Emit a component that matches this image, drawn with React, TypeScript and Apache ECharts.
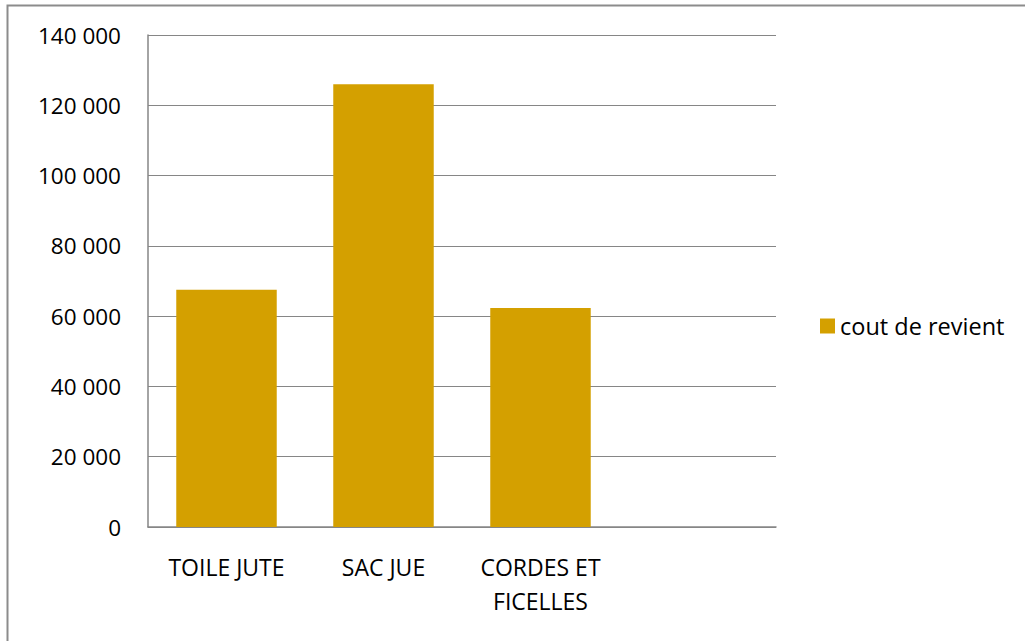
import React, { useEffect, useRef } from "react";
import * as echarts from "echarts";

const categories = ["TOILE JUTE", "SAC JUE", "CORDES ET\nFICELLES", ""];
const coutDeRevient = [67500, 126000, 62300, null];
const seriesName = "cout de revient";

export default function App() {
  const ref = useRef<HTMLDivElement>(null);
  useEffect(() => {
    document.body.style.margin = "0";
    const chart = echarts.init(ref.current!, undefined, { renderer: "svg" });
    const font = "'Open Sans', sans-serif";
    chart.setOption({
      animation: false,
      backgroundColor: "#ffffff",
      graphic: [
        {
          type: "rect",
          shape: { x: 7.5, y: 5.5, width: 1100, height: 700 },
          style: { fill: "none", stroke: "#8c8c8c", lineWidth: 2 },
          silent: true,
        },
      ],
      grid: { left: 148, right: 249, top: 35, bottom: 114 },
      legend: {
        orient: "vertical",
        left: 815,
        top: 309,
        itemWidth: 15,
        itemHeight: 15,
        icon: "rect",
        itemGap: 6,
        textStyle: { fontFamily: font, fontSize: 23.5, color: "#000" },
        data: [seriesName],
      },
      xAxis: {
        type: "category",
        data: categories,
        axisLine: { lineStyle: { color: "#868686", width: 1.5 } },
        axisTick: { show: false },
        axisLabel: {
          interval: 0,
          margin: 23,
          fontFamily: font,
          fontSize: 23,
          color: "#000",
          lineHeight: 34,
          verticalAlign: "top",
        },
      },
      yAxis: {
        type: "value",
        min: 0,
        max: 140000,
        interval: 20000,
        axisLine: { show: true, lineStyle: { color: "#868686", width: 1.5 } },
        axisTick: { show: false },
        splitLine: { lineStyle: { color: "#868686", width: 1 } },
        axisLabel: {
          margin: 27,
          fontFamily: font,
          fontSize: 22.5,
          color: "#000",
          formatter: (v: number) => (v === 0 ? "0" : `${Math.round(v / 1000)} 000`),
        },
      },
      series: [
        {
          name: seriesName,
          type: "bar",
          data: coutDeRevient,
          barCategoryGap: "36%",
          itemStyle: { color: "#D4A000" },
        },
      ],
    });
    return () => chart.dispose();
  }, []);
  return <div ref={ref} style={{ width: 1025, height: 641 }} />;
}
